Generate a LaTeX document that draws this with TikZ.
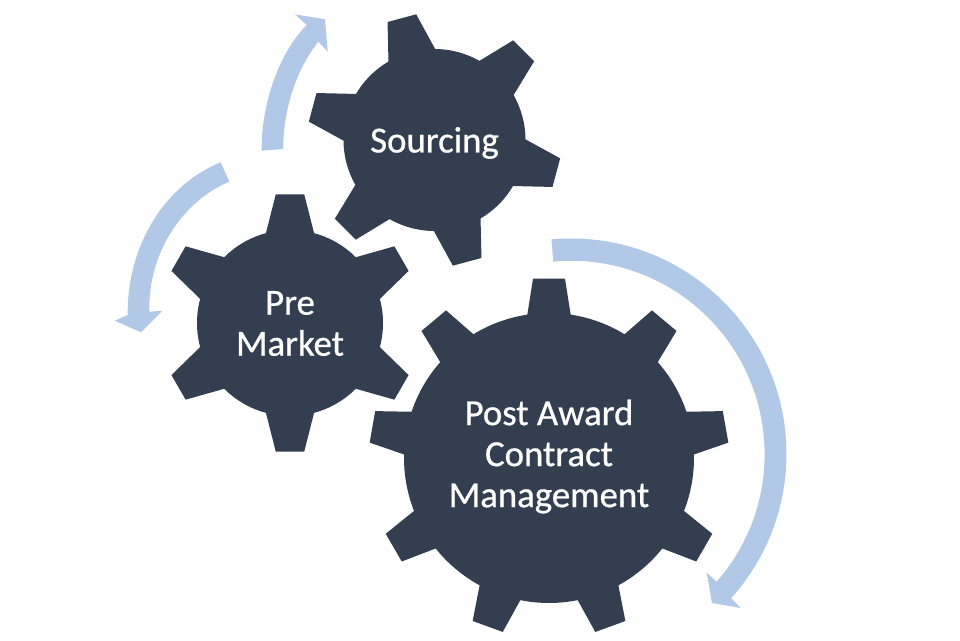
\documentclass[tikz,border=0pt]{standalone}
\usepackage{fontspec}
\setmainfont{Carlito}
\newfontfamily\gearfont{Carlito}[RawFeature={embolden=0.7}]
\definecolor{gearblue}{HTML}{333F50}
\definecolor{arrowblue}{HTML}{B1C8E6}
\newcommand{\gearshape}[8]{%
  \fill[gearblue,shift={(#1,#2)}] ({#4-#7}:#5)
    \foreach \i in {1,...,#3}{
      \pgfextra{\pgfmathsetmacro{\a}{#4+(\i-1)*360/#3}\pgfmathsetmacro{\s}{360/#3}}
      -- ({\a-#7}:#5) -- ({\a-#8}:#6) -- ({\a+#8}:#6) -- ({\a+#7}:#5)
      arc[start angle={\a+#7},end angle={\a+\s-#7},radius=#5]
    } -- cycle;}
\tikzset{
  gearlabel/.style={text=white,font=\gearfont\fontsize{36.8}{41}\selectfont,align=center,inner sep=0pt},
  flow/.style={fill=arrowblue,draw=none}
}
\begin{document}
\begin{tikzpicture}[x=1pt,y=1pt]
\useasboundingbox (0,0) rectangle (960,640);
\fill[white] (0,0) rectangle (960,640);
% gears
\gearshape{434.5}{500}{6}{105}{91}{127}{15.4}{6.7}{}
\gearshape{290}{317}{6}{90}{93}{129.5}{15}{6.3}{}
\gearshape{549}{182}{9}{90}{145}{180}{8.6}{5.1}{}
% labels
\node[gearlabel,anchor=base] (sourcing) at (434.5,487.5) {Sourcing};
\node[gearlabel] (premarket) at (290,316.5) {Pre\\Market};
\node[gearlabel] (postaward) at (549,183.5) {Post Award\\Contract\\Management};
% arrows
\fill[flow] (571,186) ++(95.2:215.5) arc[start angle=95.2,end angle=-42,radius=215.5]
  -- (740.7,32) -- (712,37) -- (706.7,67.3)
  -- (716.7,58.3) arc[start angle=-41.2,end angle=95.3,radius=193.5] -- cycle;
\begin{scope}[y=-1pt,yshift=640pt]
\fill[flow] (261.7,150.7) .. controls (261,108) and (277,55) .. (306.7,25)
  -- (295,14.3) -- (325,19.3) -- (327.7,51.7) -- (318.3,41.7)
  .. controls (296,70) and (283,110) .. (283.3,149) -- cycle;
\fill[flow] (220.7,162.3) .. controls (165,185) and (127,245) .. (127.7,315)
  -- (115,320.7) -- (141,332.3) -- (162.3,310.7) -- (149.3,311.7)
  .. controls (148,250) and (185,200) .. (229.3,181.7) -- cycle;
\end{scope}
\end{tikzpicture}
\end{document}
